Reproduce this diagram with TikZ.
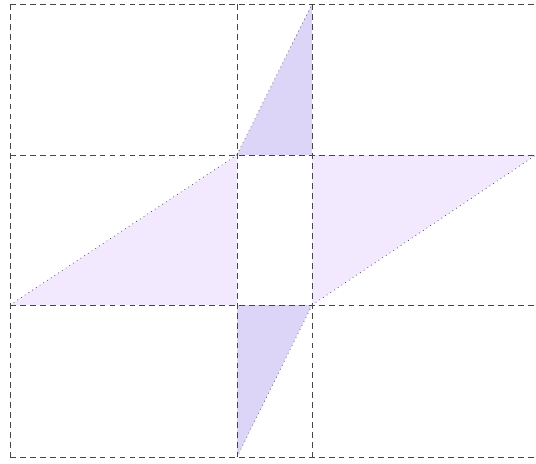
\documentclass[tikz,border=0pt]{standalone}
\usetikzlibrary{calc}
\definecolor{PatchDark}{RGB}{221,213,248}
\definecolor{PatchLight}{RGB}{243,233,254}
\definecolor{GridGray}{RGB}{70,70,70}

\begin{document}
\begin{tikzpicture}[x=0.03cm,y=-0.03cm,
    gridline/.style={GridGray,line width=0.7pt,dash pattern=on 5pt off 3.5pt},
    edgeline/.style={black!80,line width=0.6pt,dash pattern=on 0.6pt off 3.2pt}]
  \useasboundingbox (0,0) rectangle (536,463);
  \coordinate (tl) at (237,155); \coordinate (tr) at (312,155);
  \coordinate (bl) at (237,305); \coordinate (br) at (312,305);
  \coordinate (top) at (312,4); \coordinate (bot) at (237,457);
  \coordinate (lft) at (10,305); \coordinate (rgt) at (536,155);
  % the four triangles
  \fill[PatchDark] (tl) -- (tr) -- (top) -- cycle;
  \fill[PatchDark] (bl) -- (br) -- (bot) -- cycle;
  \fill[PatchLight] (lft) -- (tl) -- (bl) -- cycle;
  \fill[PatchLight] (tr) -- (rgt) -- (br) -- cycle;
  \draw[edgeline] (tl) -- (top) (br) -- (bot)
    (lft) -- (tl) (br) -- (rgt);
  % grid
  \foreach \y in {4,155,305,457}
    \draw[gridline] (10,\y) -- (536,\y);
  \foreach \x in {10,237,312}
    \draw[gridline] (\x,4) -- (\x,457);
\end{tikzpicture}
\end{document}
